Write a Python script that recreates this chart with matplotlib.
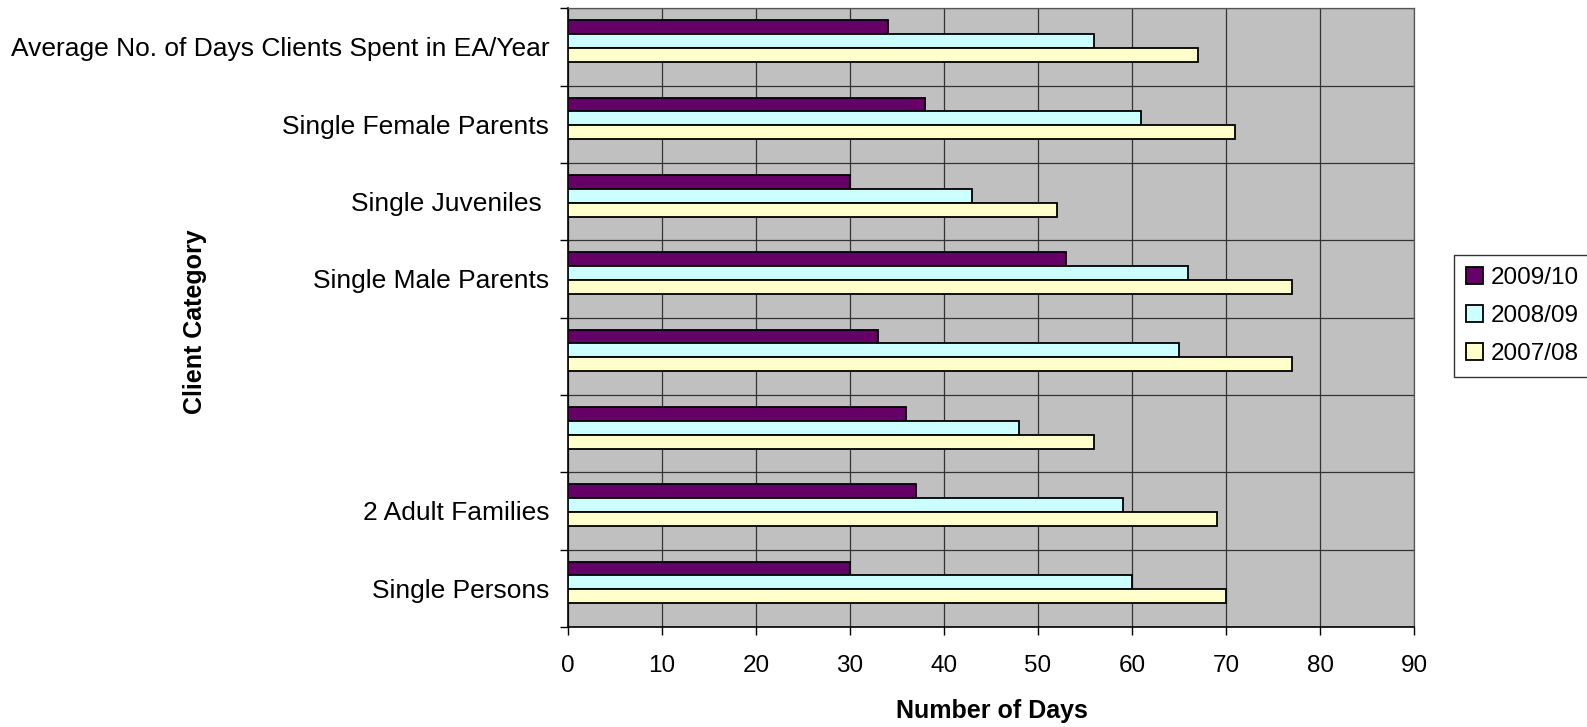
import matplotlib
matplotlib.use("Agg")
import matplotlib.pyplot as plt
import numpy as np

plt.rcParams['font.family'] = ['Liberation Sans', 'DejaVu Sans']
plt.rcParams['xtick.major.size'] = 6
plt.rcParams['xtick.major.width'] = 1.0
plt.rcParams['xtick.major.pad'] = 14
plt.rcParams['xtick.direction'] = 'out'
plt.rcParams['ytick.minor.size'] = 6
plt.rcParams['ytick.minor.width'] = 1.0
plt.rcParams['ytick.major.size'] = 0
plt.rcParams['ytick.major.pad'] = 13.5
plt.rcParams['ytick.direction'] = 'out'

# Client categories, listed top to bottom
categories = [
    "Average No. of Days Clients Spent in EA/Year",
    "Single Female Parents",
    "Single Juveniles ",
    "Single Male Parents",
    "",
    "",
    "2 Adult Families",
    "Single Persons",
]

series_names = ["2009/10", "2008/09", "2007/08"]
days_2009_10 = [34, 38, 30, 53, 33, 36, 37, 30]
days_2008_09 = [56, 61, 43, 66, 65, 48, 59, 60]
days_2007_08 = [67, 71, 52, 77, 77, 56, 69, 70]

x_ticks = [0, 10, 20, 30, 40, 50, 60, 70, 80, 90]

colors = ["#660066", "#CCFFFF", "#FFFFCC"]

W, H = 1587, 727
fig = plt.figure(figsize=(W / 100, H / 100), dpi=100)
ax = fig.add_axes([568 / W, 1 - 627 / H, (1414 - 568) / W, (627 - 8.3) / H])
ax.set_facecolor("#C0C0C0")

y = np.arange(len(categories))
bar_h = 0.18
shift = -0.076  # group sits slightly above the category centre
series = [days_2009_10, days_2008_09, days_2007_08]
for k, (vals, name, col) in enumerate(zip(series, series_names, colors)):
    ax.barh(y + shift + (k - 1) * bar_h, vals, height=bar_h, color=col,
            edgecolor="black", linewidth=1.3, label=name, zorder=3)

ax.set_xlim(0, 90)
ax.set_ylim(len(categories) - 0.5, -0.5)

ax.set_xticks(x_ticks)
ax.set_xticklabels([str(t) for t in x_ticks], fontsize=17.5)
ax.set_yticks(y)
ax.set_yticklabels(categories, fontsize=19)
ax.set_yticks(np.arange(len(categories) + 1) - 0.5, minor=True)

ax.grid(True, axis="x", which="major", color="#333333", linewidth=0.9, zorder=1)
ax.grid(True, axis="y", which="minor", color="#333333", linewidth=0.9, zorder=1)
ax.set_axisbelow(True)

for side in ("left", "bottom"):
    ax.spines[side].set_color("black")
    ax.spines[side].set_linewidth(1.2)
for side in ("top", "right"):
    ax.spines[side].set_color("#555555")
    ax.spines[side].set_linewidth(0.9)

fig.text(991.7 / W, 1 - 718 / H, "Number of Days", ha="center", va="baseline",
         fontsize=18, fontweight="bold")
fig.text(195 / W, 1 - 322 / H, "Client Category", ha="center", va="center",
         rotation=90, fontsize=18, fontweight="bold")

leg = fig.legend(loc="upper left", bbox_to_anchor=(1454 / W, 1 - 255 / H),
                 borderaxespad=0, fontsize=17.5, frameon=True, fancybox=False,
                 handlelength=0.7, handleheight=0.7, handletextpad=0.3,
                 labelspacing=0.65, borderpad=0.5)
leg.get_frame().set_edgecolor("black")
leg.get_frame().set_linewidth(1.0)

fig.savefig("out.png", dpi=100)
